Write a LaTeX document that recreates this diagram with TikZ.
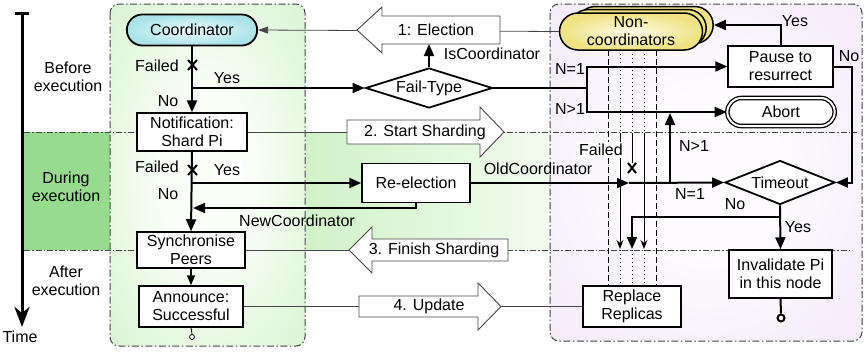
\documentclass[tikz,border=0pt]{standalone}
\usepackage{fontspec}
\setmainfont{Liberation Sans}
\usetikzlibrary{arrows.meta,shapes.geometric,shapes.misc}
\definecolor{bandgreen}{RGB}{150,219,142}
\definecolor{midgreenA}{RGB}{208,242,200}
\definecolor{midgreenB}{RGB}{242,252,239}
\definecolor{pgout}{RGB}{200,239,190}
\definecolor{pgin}{RGB}{248,254,246}
\definecolor{ppout}{RGB}{238,225,246}
\definecolor{ppin}{RGB}{253,251,254}
\definecolor{cyout}{RGB}{170,227,232}
\definecolor{cyin}{RGB}{238,251,252}
\definecolor{ylout}{RGB}{238,226,130}
\definecolor{ylin}{RGB}{255,253,232}
\definecolor{linegray}{RGB}{70,70,70}
\pgfdeclareradialshading{greenpanel}{\pgfpoint{0bp}{0bp}}{color(0bp)=(pgin); color(12bp)=(pgin); color(50bp)=(pgout); color(70bp)=(pgout)}
\pgfdeclareradialshading{pinkpanel}{\pgfpoint{0bp}{0bp}}{color(0bp)=(ppin); color(12bp)=(ppin); color(50bp)=(ppout); color(70bp)=(ppout)}
\begin{document}
\begin{tikzpicture}[x=1pt,y=-1pt,
  every node/.style={font=\fontsize{16}{18}\selectfont},
  lbl/.style={inner sep=1pt, align=center},
  box/.style={draw, line width=1.5pt, fill=white, align=center, inner sep=2pt},
  diam/.style={diamond, draw, line width=1.8pt, fill=white, inner sep=0pt, aspect=3.5},
  stad/.style={rounded rectangle, draw, line width=1.8pt},
  flow/.style={line width=2pt},
  tip/.style={-{Triangle[length=12pt,width=10pt]}},
  thinl/.style={line width=0.8pt, draw=linegray},
  barrow/.style={draw=linegray, line width=0.9pt, fill=white, line join=miter},
  sepline/.style={line width=0.8pt, draw=linegray, dash pattern=on 6pt off 2pt on 1.5pt off 2pt},
  panel/.style={line width=1pt, draw=linegray, dash pattern=on 7pt off 2.5pt on 1.5pt off 2.5pt, rounded corners=9pt},
  xm/.style={line width=2pt},
  repdash/.style={line width=0.9pt, dash pattern=on 6pt off 3pt},
  repdot/.style={line width=0.9pt, dash pattern=on 1pt off 3pt},
  replin/.style={line width=0.9pt, -{Stealth[length=9pt,width=7pt]}},
]
\useasboundingbox (0,0) rectangle (867,351);

% background bands and panels
\fill[bandgreen] (24,132) rectangle (110,250);
\shade[left color=midgreenA, right color=midgreenB] (305,132) rectangle (550,250);
\shadedraw[panel, shading=greenpanel] (110,4) rectangle (305,346);
\shadedraw[panel, shading=pinkpanel] (550,4) rectangle (862,341);
\draw[sepline] (24,132) -- (857,132);
\draw[sepline] (24,250) -- (852,250);

% time axis
\coordinate (ttop) at (22,13);
\coordinate (tbot) at (22,327);
\draw[line width=3pt] (15,13) -- (29,13);
\draw[line width=3pt, -{Stealth[length=20pt,width=15pt,inset=6pt]}] (ttop) -- (tbot);
\node[lbl] (ltime) at (20,337) {Time};
\node[lbl] (lb1) at (68,77) {Before\\execution};
\node[lbl] (lb2) at (66,187) {During\\execution};
\node[lbl] (lb3) at (66,281) {After\\execution};

% replica lines
\foreach \x in {608,656} \draw[repdash] (\x,50) -- (\x,286);
\foreach \x in {620,632,644} {\draw[repdot] (\x,50) -- (\x,132); \draw[repdot] (\x,250) -- (\x,286);}
\draw[replin] (620,133) -- (620,249);
\draw[replin] (644,133) -- (644,249);
\draw[line width=0.9pt] (632,133) -- (632,163);
\draw[xm] (628,163) -- (636,173) (628,173) -- (636,163);
\node[lbl, fill=white, inner sep=2pt] (lfail3) at (601,150) {Failed};

% nodes
\node[stad, inner color=cyin, outer color=cyout, minimum width=137pt, minimum height=31pt] (coord) at (192,30) {Coordinator};
\node[box, minimum width=110pt, minimum height=38pt] (notif) at (192,132) {Notification:\\Shard Pi};
\node[box, minimum width=108pt, minimum height=36pt] (sync) at (191,250) {Synchronise\\Peers};
\node[box, minimum width=104pt, minimum height=41pt] (ann) at (191,306.5) {Announce:\\Successful};
\node[box, minimum width=108pt, minimum height=39pt] (reel) at (416,183) {Re-election};
\node[diam, minimum width=127pt, minimum height=40pt] (fail) at (429,88) {Fail-Type};
\node[box, minimum width=105pt, minimum height=41pt] (pause) at (780.5,66.5) {Pause to\\resurrect};
\node[rounded rectangle, draw, double=white, double distance=2pt, line width=1.3pt, fill=white, minimum width=114pt, minimum height=28pt] (abort) at (781,112) {Abort};
\node[diam, minimum width=110pt, minimum height=44pt] (tout) at (780,182.5) {Timeout};
\node[box, minimum width=103pt, minimum height=48pt] (inval) at (780.5,274) {Invalidate Pi\\in this node};
\node[box, minimum width=98pt, minimum height=41pt] (repl) at (632,306.5) {Replace\\Replicas};
\node[stad, line width=1.5pt, inner color=ylin, outer color=ylout, minimum width=143pt, minimum height=37pt] (ncb) at (645,25) {};
\node[stad, line width=1.5pt, inner color=ylin, outer color=ylout, minimum width=143pt, minimum height=37pt] (ncm) at (638,28) {};
\node[stad, line width=1.5pt, inner color=ylin, outer color=ylout, minimum width=143pt, minimum height=37pt, inner sep=0pt, align=center] (nc) at (631,31.5) {Non-\\coordinators};

% thin message lines and block arrows
\draw[thinl, -{Triangle[length=10pt,width=7pt]}] (nc.west) -- (coord.east);
\draw[barrow] (357,30) -- (382,7) -- (382,16) -- (500,16) -- (500,44) -- (382,44) -- (382,53) -- cycle;
\node[lbl] (elec) at (436,30) {1: Election};
\coordinate (elecbot) at (429,44);

\coordinate (sstail) at (347,132);
\draw[thinl] (notif.east) -- (sstail);
\draw[barrow] (347,120) -- (480,120) -- (480,107) -- (504,132) -- (480,157) -- (480,144) -- (347,144) -- cycle;
\node[lbl] (startsh) at (425,132) {2. Start Sharding};

\coordinate (fstip) at (349,250);
\draw[thinl] (sync.east) -- (fstip);
\draw[barrow] (349,250) -- (372,227) -- (372,239) -- (508,239) -- (508,261) -- (372,261) -- (372,273) -- cycle;
\node[lbl] (finsh) at (434,250) {3. Finish Sharding};

\coordinate (uptail) at (359,306.5);
\coordinate (uptip) at (501,306.5);
\draw[thinl] (ann.east) -- (uptail);
\draw[thinl] (uptip) -- (repl.west);
\draw[barrow] (359,296) -- (478,296) -- (478,283) -- (501,306.5) -- (478,330) -- (478,317) -- (359,317) -- cycle;
\node[lbl] (upd) at (429,306.5) {4. Update};

% main flow of the coordinator
\draw[flow,tip] (coord.south) -- (notif.north);
\draw[xm] (188,60) -- (197,70) (188,70) -- (197,60);
\coordinate (b1) at (192,88);
\draw[flow,tip] (b1) -- (fail.west);
\node[lbl] (lfail1) at (157,66) {Failed};
\node[lbl] (lyes1) at (227,78) {Yes};
\node[lbl] (lno1) at (168,101) {No};

\draw[flow,tip] (notif.south) -- (sync.north);
\draw[xm] (188,165) -- (197,175) (188,175) -- (197,165);
\coordinate (b2) at (192,183);
\draw[flow,tip] (b2) -- (reel.west);
\coordinate (b3) at (193,208);
\draw[flow,tip] (reel.south) |- (b3);
\node[lbl] (lfail2) at (157,167) {Failed};
\node[lbl, fill=white, inner sep=3pt] (lyes2) at (227,170) {Yes};
\node[lbl] (lno2) at (168,194) {No};
\node[lbl] (lnew) at (297,221) {NewCoordinator};

\draw[line width=1.5pt, -{Triangle[length=10pt,width=8pt]}] (sync.south) -- (ann.north);
\node[circle, draw, line width=0.8pt, fill=white, inner sep=0pt, minimum size=5pt] (end1) at (192,337) {};
\draw[line width=0.8pt] (ann.south) -- (end1.north);

% fail-type branches
\draw[flow,tip] (fail.north) -- (elecbot);
\node[lbl] (liscoord) at (492,53.5) {IsCoordinator};
\coordinate (fsplit) at (587,88);
\draw[flow] (fail.east) -- (fsplit);
\draw[flow,tip] (fsplit) |- (pause.west);
\draw[flow,tip] (fsplit) |- (abort.west);
\node[lbl] (ln1a) at (570,69) {N=1};
\node[lbl] (ln2a) at (570,109) {N>1};

\draw[flow,tip] (pause.north) |- (ncb.east);
\node[lbl] (lyes3) at (795,21.5) {Yes};
\coordinate (pn) at (852,66.5);
\draw[flow,tip] (pause.east) -- (pn) |- (tout.east);
\node[lbl] (lno3) at (849,56) {No};

% old coordinator and timeout
\coordinate (oc) at (629,183);
\draw[flow,tip] (reel.east) -- (oc);
\draw[flow,tip] (oc) -- (tout.west);
\node[lbl] (loldc) at (538,169) {OldCoordinator};
\coordinate (n1b) at (670,183);
\coordinate (n1t) at (670,113);
\draw[flow,tip] (n1b) -- (n1t);
\node[lbl] (ln2b) at (694,145.5) {N>1};
\node[lbl] (ln1b) at (690,194) {N=1};

\draw[flow,tip] (tout.south) -- (inval.north);
\coordinate (ty) at (780,217);
\coordinate (r3) at (632,249);
\draw[flow,tip] (ty) -| (r3);
\node[lbl] (lno4) at (735,204.5) {No};
\node[lbl] (lyes4) at (798,227.5) {Yes};
\node[circle, draw, line width=2pt, fill=white, inner sep=0pt, minimum size=7pt] (end2) at (781,318) {};
\draw[flow] (inval.south) -- (end2.north);
\end{tikzpicture}
\end{document}
